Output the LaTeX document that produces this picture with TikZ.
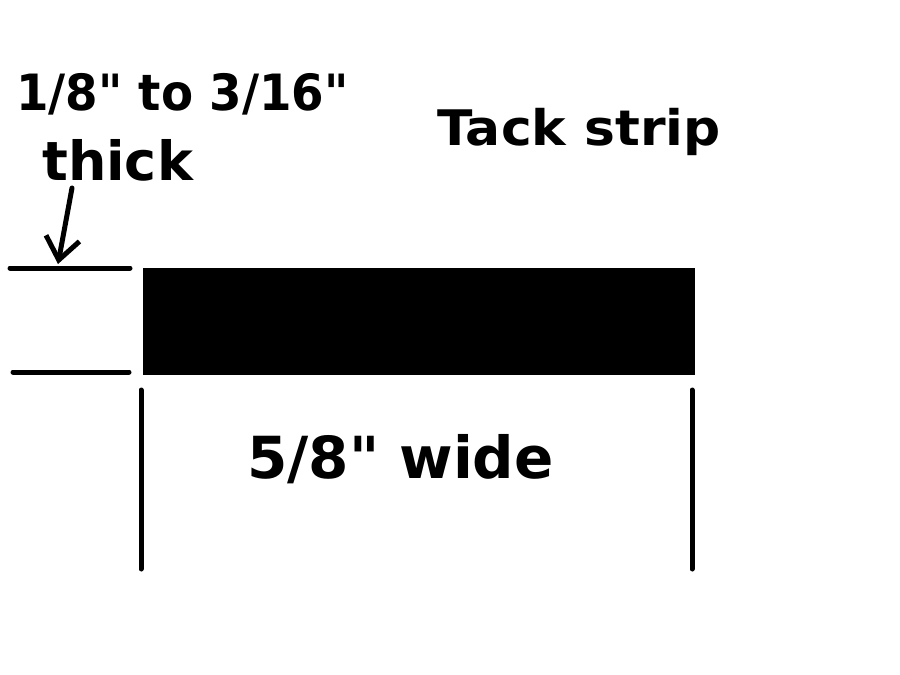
\documentclass[tikz,border=0pt]{standalone}
\usepackage{fontspec}
\setmainfont{DejaVu Sans}[Ligatures=TeXOff]
\usetikzlibrary{arrows.meta}
\tikzset{
	dimline/.style={line width=5pt,line cap=round},
	lbl/.style={anchor=base west,inner sep=0pt},
}

\begin{document}
\begin{tikzpicture}[x=1pt,y=-1pt]
	\useasboundingbox (0,0) rectangle (900,675);

	% title...................
	\node [lbl,font=\bfseries\fontsize{49}{58}\selectfont] (title) at (437,145) {\scalebox{1.06}[1]{Tack strip}};

	% thickness label..............
	\node [lbl,font=\bfseries\fontsize{50}{60}\selectfont] (range) at (16,110) {\scalebox{0.935}[1]{1/8" to 3/16"}};
	\node [lbl,font=\bfseries\fontsize{54}{64}\selectfont] (thick) at (42,180) {thick};

	% strip.....................
	\fill (143,268) rectangle (695,375);

	% thickness marks..................
	\draw [dimline] (10,268) to (130,268);
	\draw [dimline] (13,372) to (129,372);
	\coordinate (tail) at (72,188);
	\coordinate (tip) at (58,264);
	\draw [dimline,-{Straight Barb[length=22pt,width=34pt]}] (tail) to (tip);

	% width marks.....................
	\draw [dimline] (141,390) to (141,569);
	\draw [dimline] (692,390) to (692,569);
	\node [lbl,font=\bfseries\fontsize{58}{68}\selectfont] (wide) at (247,478) {5/8" wide};

\end{tikzpicture}
\end{document}
